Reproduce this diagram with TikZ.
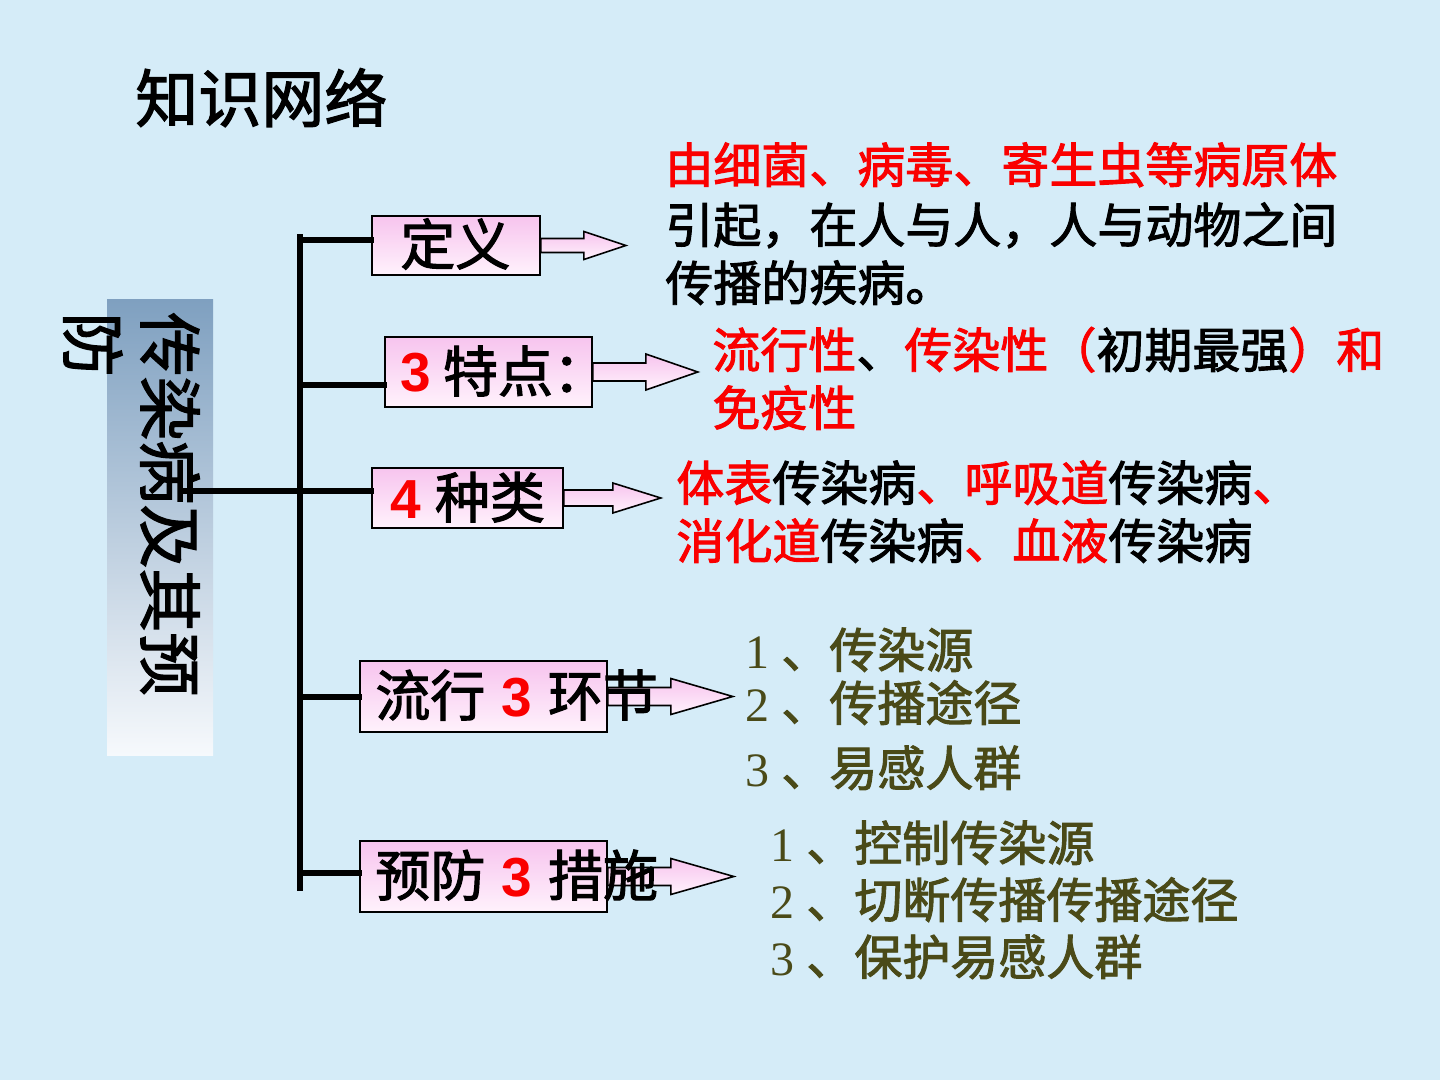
\documentclass[tikz,border=0pt]{standalone}
\usepackage{fontspec}
\setmainfont{Noto Sans CJK SC}[FakeBold=2]
\newfontfamily\arialf{Liberation Sans}
\newfontfamily\timesf{Liberation Serif}
\usetikzlibrary{calc}
\definecolor{bgblue}{RGB}{213,236,248}
\definecolor{myred}{RGB}{250,0,0}
\definecolor{olivetxt}{RGB}{74,74,24}
\definecolor{pinkA}{RGB}{247,196,238}
\definecolor{pinkB}{RGB}{255,242,252}
\definecolor{grayA}{RGB}{127,160,192}
\definecolor{grayB}{RGB}{246,249,252}
\newcommand{\rd}[1]{\textcolor{myred}{#1}}
\newcommand{\rdnum}[1]{{\arialf\bfseries\color{myred}#1}}
\newcommand{\sn}[1]{{\timesf #1}\hspace{6pt}}
\newcommand{\blockarr}[5]{%
  \draw[arrowbox] ($(#1.east)+(0,-#2)$) -- ++(#4,0) -- ++(0,{-(#3-#2)})
    -- ($(#1.east)+(#5,0)$) -- ($(#1.east)+(#4,#3)$) -- ++(0,{-(#3-#2)})
    -- ($(#1.east)+(0,#2)$) -- cycle;}
\begin{document}
\begin{tikzpicture}[x=0.5pt,y=-0.5pt,
  txt/.style={anchor=base west, inner sep=0, font=\fontsize{24}{28}\selectfont},
  lst/.style={txt, text=olivetxt},
  boxtxt/.style={anchor=base west, inner sep=0, font=\fontsize{27.5}{32}\selectfont},
  pinkbox/.style={draw=black, line width=0.8pt, top color=pinkA, bottom color=pinkB, inner sep=0},
  arrowbox/.style={draw=black, line width=0.8pt, top color=pinkA, bottom color=pinkB},
  trunkline/.style={line width=2.8pt, line cap=rect},
  topicbox/.style={top color=grayA, bottom color=grayB, draw=none, inner sep=0}]
\useasboundingbox (0,0) rectangle (1440,1080);
\fill[bgblue] (0,0) rectangle (1440,1080);

% title
\node[anchor=base west, inner sep=0, font=\fontsize{31.5}{36}\selectfont] (title) at (135,122) {知识网络};

% topic box
\node[topicbox, minimum width=53pt, minimum height=227.5pt] (topic) at (160,527.5) {};
\node[rotate=-90, anchor=north west, align=left, inner sep=0,
      font=\fontsize{32}{38.5}\selectfont] (topictxt) at (200,312) {传染病及其预\\防};

% branch boxes
\node[pinkbox, minimum width=84pt, minimum height=29.5pt] (b1) at (456,245.5) {};
\node[pinkbox, minimum width=103.5pt, minimum height=35pt] (b2) at (488.5,372) {};
\node[pinkbox, minimum width=95.5pt, minimum height=30pt] (b3) at (467.5,498) {};
\node[pinkbox, minimum width=123.5pt, minimum height=35.5pt] (b4) at (483.5,696.5) {};
\node[pinkbox, minimum width=123.5pt, minimum height=35.5pt] (b5) at (483.5,876.5) {};

% trunk and branches
\coordinate (tTop) at (300,237);
\coordinate (tBot) at (300,888);
\coordinate (tStart) at (185,491);
\coordinate (j1) at (300,240);
\coordinate (j2) at (300,385);
\coordinate (j3) at (300,491);
\coordinate (j4) at (300,697);
\coordinate (j5) at (300,873);
\draw[trunkline] (tTop) -- (tBot);
\draw[trunkline] (j1) -- (j1 -| b1.west);
\draw[trunkline] (j2) -- (j2 -| b2.west);
\draw[trunkline] (tStart) -- (j3 -| b3.west);
\draw[trunkline] (j4) -- (j4 -| b4.west);
\draw[trunkline] (j5) -- (j5 -| b5.west);

% block arrows
\blockarr{b1}{7}{14}{43}{85}
\blockarr{b2}{9}{18}{53}{105}
\blockarr{b3}{8}{15}{49}{97}
\blockarr{b4}{9}{18}{63}{125}
\blockarr{b5}{9}{18}{63}{126}

% box texts
\node[boxtxt] (b1t) at (400,265) {定义};
\node[boxtxt] (b2t) at (400,392) {\rdnum{3}\hspace{6pt}特点：};
\node[boxtxt] (b3t) at (390,518) {\rdnum{4}\hspace{7pt}种类};
\node[boxtxt] (b4t) at (375,716) {流行\hspace{8pt}\rdnum{3}\hspace{8pt}环节};
\node[boxtxt] (b5t) at (375,896) {预防\hspace{8pt}\rdnum{3}\hspace{8pt}措施};

% definition
\node[txt] (d1) at (665,183) {\rd{由细菌、病毒、寄生虫等病原体}};
\node[txt] (d2) at (665,243) {引起，在人与人，人与动物之间};
\node[txt] (d3) at (665,301) {传播的疾病。};

% features
\node[txt] (t1) at (712,368) {\rd{流行性}、\rd{传染性（}初期最强\rd{）和}};
\node[txt] (t2) at (712,426) {\rd{免疫性}};

% kinds
\node[txt] (k1) at (676,501) {\rd{体表}传染病\rd{、呼吸道}传染病\rd{、}};
\node[txt] (k2) at (676,559) {\rd{消化道}传染病\rd{、血液}传染病};

% links
\node[lst] (l1) at (745,668) {\sn{1}、传染源};
\node[lst] (l2) at (745,721) {\sn{2}、传播途径};
\node[lst] (l3) at (745,786) {\sn{3}、易感人群};

% measures
\node[lst] (p1) at (770,861) {\sn{1}、控制传染源};
\node[lst] (p2) at (770,918) {\sn{2}、切断传播传播途径};
\node[lst] (p3) at (770,975) {\sn{3}、保护易感人群};
\end{tikzpicture}
\end{document}
